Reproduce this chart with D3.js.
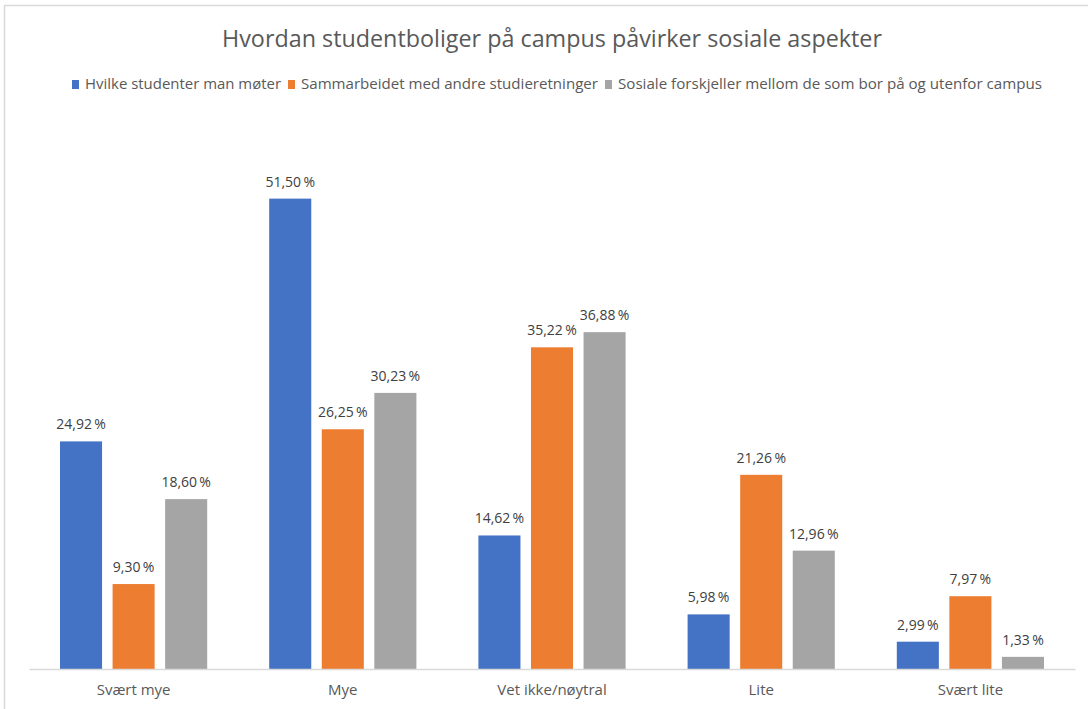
<!DOCTYPE html>
<html>
<head>
<meta charset="utf-8">
<script src="https://cdn.jsdelivr.net/npm/d3@7"></script>
<style>
  body { margin: 0; background: #fff; }
  svg { font-family: "Open Sans", "Liberation Sans", Arial, sans-serif; }
</style>
</head>
<body>
<div id="chart"></div>
<script>
// data
var categories = ["Svært mye", "Mye", "Vet ikke/nøytral", "Lite", "Svært lite"];
var seriesNames = [
  "Hvilke studenter man møter",
  "Sammarbeidet med andre studieretninger",
  "Sosiale forskjeller mellom de som bor på og utenfor campus"
];
var moter = [24.92, 51.50, 14.62, 5.98, 2.99];
var samarbeid = [9.30, 26.25, 35.22, 21.26, 7.97];
var forskjeller = [18.60, 30.23, 36.88, 12.96, 1.33];
var colors = ["#4472C4", "#ED7D31", "#A5A5A5"];

var width = 1088, height = 709;
var margin = {top: 121, left: 29, right: 13, bottom: 40};
var baseY = 669;

var svg = d3.select("#chart").append("svg")
  .attr("width", width).attr("height", height);

// chart border
svg.append("path")
  .attr("d", "M4.5,709 L4.5,5.5 L1088,5.5")
  .attr("fill", "none").attr("stroke", "#d9d9d9").attr("stroke-width", 1.5);

var values = [moter, samarbeid, forskjeller];
var rows = categories.map(function(c, i) {
  return {cat: c, vals: values.map(function(v, s) { return {s: s, v: v[i]}; })};
});

var x0 = d3.scaleBand().domain(categories)
  .range([margin.left, width - margin.right]).paddingInner(0).paddingOuter(0);
var x1 = d3.scaleBand().domain([0, 1, 2])
  .range([31, x0.bandwidth() - 31]).paddingInner(0.2).paddingOuter(0);
var y = d3.scaleLinear().domain([0, 60]).range([baseY, margin.top]);

var g = svg.selectAll("g.cat").data(rows).enter().append("g")
  .attr("class", "cat")
  .attr("transform", function(d) { return "translate(" + x0(d.cat) + ",0)"; });

g.selectAll("rect").data(function(d) { return d.vals; }).enter().append("rect")
  .attr("x", function(d) { return x1(d.s); })
  .attr("width", x1.bandwidth())
  .attr("y", function(d) { return y(d.v); })
  .attr("height", function(d) { return baseY - y(d.v); })
  .attr("fill", function(d) { return colors[d.s]; });

var fmt = function(v) { return v.toFixed(2).replace(".", ",") + "\u2009%"; };
g.selectAll("text.lbl").data(function(d) { return d.vals; }).enter().append("text")
  .attr("class", "lbl")
  .attr("x", function(d) { return x1(d.s) + x1.bandwidth() / 2; })
  .attr("y", function(d) { return y(d.v) - 12; })
  .attr("text-anchor", "middle")
  .attr("font-size", 14)
  .attr("fill", "#404040")
  .text(function(d) { return fmt(d.v); });

// baseline axis
var xAxis = svg.append("g")
  .attr("transform", "translate(0," + baseY + ")")
  .call(d3.axisBottom(x0).tickSize(0).tickPadding(15));
xAxis.select(".domain").attr("stroke", "#d9d9d9").attr("stroke-width", 1.5);
xAxis.selectAll("text").attr("font-size", 15).attr("fill", "#595959")
  .attr("font-family", "Open Sans, Liberation Sans, Arial, sans-serif");

// title
svg.append("text")
  .attr("x", 552).attr("y", 47)
  .attr("text-anchor", "middle")
  .attr("font-size", 23)
  .attr("fill", "#595959")
  .attr("textLength", 660).attr("lengthAdjust", "spacingAndGlyphs")
  .text("Hvordan studentboliger på campus påvirker sosiale aspekter");

// legend
var legendWidths = [196, 297, 424];
var legend = svg.append("g").attr("transform", "translate(72,89)");
var lx = 0;
seriesNames.forEach(function(name, i) {
  var item = legend.append("g").attr("transform", "translate(" + lx + ",0)");
  item.append("rect").attr("x", 0).attr("y", -9).attr("width", 7).attr("height", 9)
    .attr("fill", colors[i]);
  item.append("text").attr("x", 13).attr("y", 0)
    .attr("font-size", 14).attr("fill", "#595959")
    .attr("textLength", legendWidths[i]).attr("lengthAdjust", "spacingAndGlyphs")
    .text(name);
  lx += 13 + legendWidths[i] + 7;
});
</script>
</body>
</html>
